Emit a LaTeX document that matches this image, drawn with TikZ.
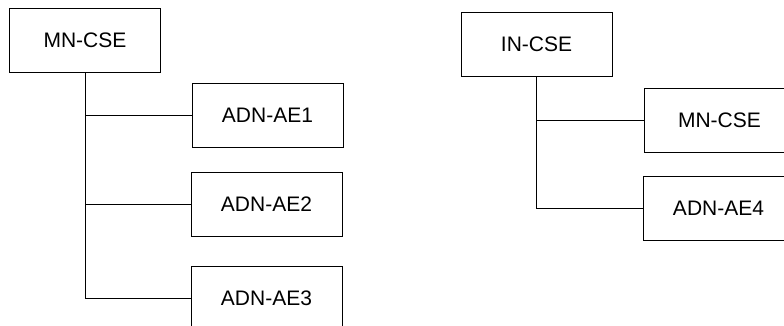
\documentclass[tikz,border=0pt]{standalone}
\usepackage{fontspec}
\setmainfont{Liberation Sans}
\begin{document}
\begin{tikzpicture}[x=1pt,y=-1pt,
  box/.style={draw, line width=0.9pt, minimum width=151pt, minimum height=64pt, inner sep=0pt, font=\fontsize{21}{25}\selectfont},
  conn/.style={draw, line width=0.9pt}]
\useasboundingbox (0,0) rectangle (784,326);
\clip (0,0) rectangle (784,326);
\node[box] (mn) at (85,40) {MN-CSE};
\node[box] (ae1) at (267.5,115) {ADN-AE1};
\node[box] (ae2) at (266.5,204) {ADN-AE2};
\node[box] (ae3) at (266.5,298) {ADN-AE3};
\node[box] (in) at (536.5,44.5) {IN-CSE};
\node[box] (mn2) at (719.5,120) {MN-CSE};
\node[box] (ae4) at (718.5,208.5) {ADN-AE4};
\draw[conn] (mn.south) |- (ae3.west);
\draw[conn] (mn.south |- ae1.west) -- (ae1.west);
\draw[conn] (mn.south |- ae2.west) -- (ae2.west);
\draw[conn] (in.south) |- (ae4.west);
\draw[conn] (in.south |- mn2.west) -- (mn2.west);
\end{tikzpicture}
\end{document}
